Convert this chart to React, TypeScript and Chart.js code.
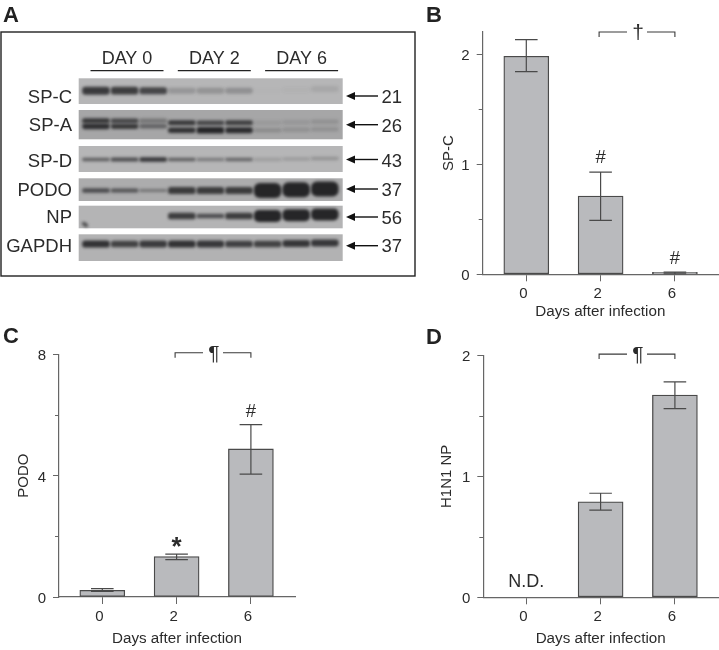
import React, { useEffect, useRef } from "react";
import { Chart, registerables } from "chart.js";

Chart.register(...registerables);

const FONT = "'Liberation Sans', Arial, sans-serif";
const TEXT = "#2b2b2b";
const AXIS = "#666666";
const EDGE = "#4a4a4a";
const BAR = "#b9babd";

// ---------- data: bar panels ----------
const days = ["0", "2", "6"];

const spcValues = [1.98, 0.71, 0.012];
const spcUpper = [2.13, 0.927, 0.02];
const spcLower = [1.84, 0.49, 0.005];

const podoValues = [0.22, 1.33, 4.88];
const podoUpper = [0.275, 1.41, 5.68];
const podoLower = [0.187, 1.23, 4.05];

const npValues = [null, 0.79, 1.672];
const npUpper = [null, 0.86, 1.78];
const npLower = [null, 0.72, 1.56];

const spcTicks = [0, 0.5, 1, 1.5, 2];
const podoTicks = [0, 2, 4, 6, 8];
const npTicks = [0, 0.5, 1, 1.5, 2];

// ---------- data: blot panel (band density per lane) ----------
const dayHeaders = ["DAY 0", "DAY 2", "DAY 6"];
const proteins = ["SP-C", "SP-A", "SP-D", "PODO", "NP", "GAPDH"];
const weights = ["21", "26", "43", "37", "56", "37"];

const spcBand = [0.86, 0.84, 0.78, 0.22, 0.24, 0.26, 0.01, 0.03, 0.1];
const spaBandTop = [0.85, 0.75, 0.38, 0.85, 0.75, 0.8, 0.1, 0.12, 0.16];
const spaBandLow = [0.92, 0.85, 0.52, 0.9, 1.0, 0.95, 0.2, 0.16, 0.16];
const spdBand = [0.6, 0.72, 0.88, 0.6, 0.4, 0.55, 0.16, 0.18, 0.24];
const podoBand = [0.72, 0.66, 0.42, 0.84, 0.84, 0.84, 1, 1, 1];
const npBand = [0, 0, 0, 0.84, 0.72, 0.84, 1, 1, 1];
const gapdhBand = [0.92, 0.8, 0.86, 0.92, 0.88, 0.82, 0.8, 0.88, 0.88];

// ---------- layout ----------
const LANE_X0 = 96;
const LANE_STEP = 28.6;
const ROWS = [
  { top: 78.3, bottom: 104, shade: "#b6b6b7", labelY: 98, arrowY: 96, numY: 98 },
  { top: 110, bottom: 139.3, shade: "#a6a6a7", labelY: 126, arrowY: 124.7, numY: 126.5 },
  { top: 146, bottom: 172, shade: "#b6b6b7", labelY: 161.5, arrowY: 159.5, numY: 161.5 },
  { top: 178.3, bottom: 201, shade: "#acacad", labelY: 190.5, arrowY: 189, numY: 190.5 },
  { top: 205.7, bottom: 228.3, shade: "#b4b4b5", labelY: 218, arrowY: 217, numY: 218.5 },
  { top: 234.3, bottom: 261, shade: "#b2b2b3", labelY: 246.5, arrowY: 245.7, numY: 246.5 },
];
const TRACKS = [
  { data: spcBand, y: 90.7, thin: 6, thick: 11, shift: 0 },
  { data: spaBandTop, y: 120.8, thin: 4.5, thick: 6, shift: 2 },
  { data: spaBandLow, y: 126.3, thin: 4.5, thick: 6.5, shift: 4 },
  { data: spdBand, y: 159.5, thin: 3.5, thick: 5.5, shift: 0 },
  { data: podoBand, y: 190.5, thin: 3, thick: 15, shift: 0 },
  { data: npBand, y: 216, thin: 3.5, thick: 12, shift: 0 },
  { data: gapdhBand, y: 244, thin: 6, thick: 8, shift: 0 },
];

function blotPlugin() {
  return {
    id: "blot",
    afterDatasetsDraw(chart: any) {
      const { ctx } = chart;
      const x = chart.scales.x;
      const y = chart.scales.y;
      const px = (v: number) => x.getPixelForValue(v);
      ctx.save();
      ctx.fillStyle = "#fff";
      ctx.fillRect(0, 0, 420, 290);

      ctx.fillStyle = "#222";
      ctx.textBaseline = "alphabetic";
      ctx.textAlign = "left";
      ctx.font = `bold 22px ${FONT}`;
      ctx.fillText("A", 3, 22);

      ctx.strokeStyle = "#222";
      ctx.lineWidth = 1.4;
      ctx.strokeRect(1, y.getPixelForValue(32), 414, 244);

      ctx.fillStyle = TEXT;
      ctx.font = `18px ${FONT}`;
      ctx.textAlign = "center";
      ctx.textBaseline = "middle";
      dayHeaders.forEach((d, i) => {
        const c = px(1 + i * 3) + 2.4 + i * 1.5;
        ctx.fillText(d, c, 59.5);
        ctx.beginPath();
        ctx.lineWidth = 1.2;
        ctx.moveTo(c - 36.5, 70.7);
        ctx.lineTo(c + 36.5, 70.7);
        ctx.stroke();
      });

      ROWS.forEach((r, i) => {
        ctx.filter = "blur(0.6px)";
        ctx.fillStyle = r.shade;
        ctx.fillRect(78.7, r.top, 264, r.bottom - r.top);
        ctx.filter = "none";
        ctx.fillStyle = TEXT;
        ctx.textAlign = "right";
        ctx.font = `18.5px ${FONT}`;
        ctx.fillText(proteins[i], 72, r.labelY);
        ctx.textAlign = "left";
        ctx.fillText(weights[i], 381.5, r.numY);
        ctx.strokeStyle = "#111";
        ctx.lineWidth = 1.4;
        ctx.beginPath();
        ctx.moveTo(378, r.arrowY);
        ctx.lineTo(352, r.arrowY);
        ctx.stroke();
        ctx.beginPath();
        ctx.fillStyle = "#111";
        ctx.moveTo(346, r.arrowY);
        ctx.lineTo(355, r.arrowY - 4);
        ctx.lineTo(355, r.arrowY + 4);
        ctx.closePath();
        ctx.fill();
      });

      ctx.filter = "blur(1.6px)";
      chart.data.datasets.forEach((ds: any, di: number) => {
        const t = TRACKS[di];
        ds.data.forEach((p: any) => {
          if (p.y <= 0) return;
          const h = t.thin + (t.thick - t.thin) * Math.pow(p.y, 6);
          const lift = p.x >= 6 ? (p.x - 6) * (t.thick > 9 ? 0.8 : 0.5) : 0;
          const drop = p.x >= 3 ? t.shift : 0;
          ctx.fillStyle = `rgba(22,22,24,${p.y * 0.9})`;
          ctx.beginPath();
          ctx.roundRect(px(p.x) - 13.8, t.y - lift + drop - h / 2, 27.6, h, h / 2.5);
          ctx.fill();
        });
      });
      // small speck near the lower left of the NP strip
      ctx.fillStyle = "rgba(40,40,42,0.7)";
      ctx.beginPath();
      ctx.ellipse(85, 224.5, 3.5, 2, 0.6, 0, Math.PI * 2);
      ctx.fill();
      ctx.filter = "none";
      ctx.restore();
    },
  };
}

function BlotPanel() {
  const ref = useRef<HTMLCanvasElement>(null);
  useEffect(() => {
    const datasets = TRACKS.map((t) => ({
      data: t.data.map((v, i) => ({ x: i, y: v })),
      pointRadius: 0,
      showLine: false,
    }));
    const chart = new Chart(ref.current!, {
      type: "scatter",
      data: { datasets },
      options: {
        animation: false,
        responsive: false,
        parsing: false,
        events: [],
        layout: { padding: 0 },
        plugins: { legend: { display: false }, tooltip: { enabled: false } },
        scales: {
          x: { type: "linear", display: false, min: -LANE_X0 / LANE_STEP, max: (420 - LANE_X0) / LANE_STEP },
          y: { type: "linear", display: false, min: 0, max: 290, reverse: true },
        },
      },
      plugins: [blotPlugin()],
    } as any);
    return () => chart.destroy();
  }, []);
  return <canvas ref={ref} width={420} height={290} style={{ position: "absolute", left: 0, top: 0 }} />;
}

type BarCfg = {
  letter: string;
  letterX: number;
  letterY: number;
  left: number;
  top: number;
  width: number;
  height: number;
  plot: { l: number; r: number; t: number; b: number };
  centers: [number, number];
  yMax: number;
  yTicks: number[];
  values: (number | null)[];
  upper: (number | null)[];
  lower: (number | null)[];
  yTitle: string;
  yTitleX: number;
  xTitleGap: number;
  bracketSymbol: string;
  bracketY: number;
  marks: { i: number; text: string; y: number; font: string }[];
  nd?: { i: number; y: number };
};

function overlay(cfg: BarCfg) {
  return {
    id: "overlay",
    afterDatasetsDraw(chart: any) {
      const { ctx } = chart;
      const x = chart.scales.x;
      const y = chart.scales.y;
      ctx.save();
      // shorter minor ticks on the value axis
      ctx.strokeStyle = AXIS;
      ctx.lineWidth = 1;
      cfg.yTicks.forEach((v, i) => {
        if (i % 2 === 0) return;
        const py = Math.round(y.getPixelForValue(v)) + 0.5;
        ctx.beginPath();
        ctx.moveTo(x.left - 4, py);
        ctx.lineTo(x.left, py);
        ctx.stroke();
      });
      // error bars
      ctx.strokeStyle = EDGE;
      ctx.lineWidth = 1.2;
      cfg.values.forEach((_, i) => {
        const up = cfg.upper[i];
        const lo = cfg.lower[i];
        if (up == null || lo == null) return;
        const cx = x.getPixelForValue(i);
        const a = y.getPixelForValue(up);
        const b = y.getPixelForValue(lo);
        ctx.beginPath();
        ctx.moveTo(cx, a);
        ctx.lineTo(cx, b);
        ctx.moveTo(cx - 11.3, a);
        ctx.lineTo(cx + 11.3, a);
        ctx.moveTo(cx - 11.3, b);
        ctx.lineTo(cx + 11.3, b);
        ctx.stroke();
      });
      // panel letter
      ctx.fillStyle = "#222";
      ctx.textAlign = "left";
      ctx.textBaseline = "alphabetic";
      ctx.font = `bold 22px ${FONT}`;
      ctx.fillText(cfg.letter, cfg.letterX, cfg.letterY);
      // bracket between days 2 and 6
      const x1 = x.getPixelForValue(1) - 1.5;
      const x2 = x.getPixelForValue(2);
      const by = y.getPixelForValue(cfg.bracketY);
      const mid = (x1 + x2) / 2 + 1;
      ctx.strokeStyle = "#3a3a3a";
      ctx.lineWidth = 1.1;
      ctx.beginPath();
      ctx.moveTo(x1, by + 5);
      ctx.lineTo(x1, by);
      ctx.lineTo(mid - 11, by);
      ctx.moveTo(mid + 9, by);
      ctx.lineTo(x2, by);
      ctx.lineTo(x2, by + 5);
      ctx.stroke();
      ctx.fillStyle = TEXT;
      ctx.textAlign = "center";
      ctx.textBaseline = "middle";
      ctx.font = `21px ${FONT}`;
      ctx.fillText(cfg.bracketSymbol, mid, by + 1);
      // significance marks
      cfg.marks.forEach((m) => {
        ctx.font = m.font;
        ctx.fillText(m.text, x.getPixelForValue(m.i), y.getPixelForValue(m.y));
      });
      if (cfg.nd) {
        ctx.font = `18px ${FONT}`;
        ctx.fillText("N.D.", x.getPixelForValue(cfg.nd.i), y.getPixelForValue(cfg.nd.y));
      }
      ctx.restore();
    },
  };
}

function BarPanel({ cfg }: { cfg: BarCfg }) {
  const ref = useRef<HTMLCanvasElement>(null);
  useEffect(() => {
    const { plot, centers } = cfg;
    const step = centers[1] - centers[0];
    const chart = new Chart(ref.current!, {
      type: "bar",
      data: {
        datasets: [
          {
            data: cfg.values.map((v, i) => ({ x: i, y: v })),
            backgroundColor: BAR,
            borderColor: EDGE,
            borderWidth: 1.3,
            borderSkipped: false,
            barThickness: 45,
            minBarLength: 2,
          },
        ],
      },
      options: {
        animation: false,
        responsive: false,
        events: [],
        layout: { padding: { top: plot.t, right: cfg.width - plot.r, left: 0, bottom: 0 } },
        plugins: { legend: { display: false }, tooltip: { enabled: false } },
        scales: {
          x: {
            type: "linear",
            offset: false,
            min: (plot.l - centers[0]) / step,
            max: (plot.r - centers[0]) / step,
            afterFit: (s: any) => {
              s.height = cfg.height - plot.b;
            },
            afterBuildTicks: (s: any) => {
              s.ticks = days.map((_, i) => ({ value: i }));
            },
            ticks: {
              callback: (v: any) => days[v],
              autoSkip: false,
              maxRotation: 0,
              padding: 3.5,
              labelOffset: -3,
              color: TEXT,
              font: { family: FONT, size: 15 },
            },
            grid: {
              offset: false,
              drawOnChartArea: false,
              drawTicks: true,
              tickLength: 7,
              tickColor: AXIS,
              tickWidth: 1,
            },
            border: { color: AXIS, width: 1.2 },
            title: {
              display: true,
              text: "Days after infection",
              color: TEXT,
              font: { family: FONT, size: 15.2 },
              padding: { top: 0, bottom: cfg.xTitleGap },
            },
          },
          y: {
            type: "linear",
            min: 0,
            max: cfg.yMax,
            afterFit: (s: any) => {
              s.width = plot.l;
            },
            afterBuildTicks: (s: any) => {
              s.ticks = cfg.yTicks.map((v) => ({ value: v }));
            },
            ticks: {
              callback: (_: any, i: number) => (i % 2 === 0 ? String(cfg.yTicks[i]) : ""),
              padding: 7,
              labelOffset: 2,
              color: TEXT,
              font: { family: FONT, size: 15 },
            },
            grid: {
              drawOnChartArea: false,
              drawTicks: true,
              tickLength: 6,
              tickColor: (c: any) => (c.index % 2 === 0 ? AXIS : "rgba(0,0,0,0)"),
              tickWidth: 1,
            },
            border: { color: AXIS, width: 1.2 },
            title: {
              display: true,
              text: cfg.yTitle,
              color: TEXT,
              font: { family: FONT, size: 15 },
              padding: { top: cfg.yTitleX - 9, bottom: 0 },
            },
          },
        },
      },
      plugins: [overlay(cfg)],
    } as any);
    return () => chart.destroy();
  }, [cfg]);
  return (
    <canvas
      ref={ref}
      width={cfg.width}
      height={cfg.height}
      style={{ position: "absolute", left: cfg.left, top: cfg.top }}
    />
  );
}

const hashFont = `18.5px ${FONT}`;

const panelB: BarCfg = {
  letter: "B",
  letterX: 6,
  letterY: 22,
  left: 420,
  top: 0,
  width: 299,
  height: 325,
  plot: { l: 62.7, r: 298, t: 32, b: 274.3 },
  centers: [106.3, 180.6],
  yMax: 2.2,
  yTicks: spcTicks,
  values: spcValues,
  upper: spcUpper,
  lower: spcLower,
  yTitle: "SP-C",
  yTitleX: 29,
  xTitleGap: 4,
  bracketSymbol: "†",
  bracketY: 2.2,
  marks: [
    { i: 1, text: "#", y: 1.06, font: hashFont },
    { i: 2, text: "#", y: 0.14, font: hashFont },
  ],
};

const panelC: BarCfg = {
  letter: "C",
  letterX: 3,
  letterY: 18,
  left: 0,
  top: 325,
  width: 300,
  height: 325,
  plot: { l: 59, r: 295, t: 29.3, b: 272 },
  centers: [102.3, 176.6],
  yMax: 8,
  yTicks: podoTicks,
  values: podoValues,
  upper: podoUpper,
  lower: podoLower,
  yTitle: "PODO",
  yTitleX: 24,
  xTitleGap: 2,
  bracketSymbol: "¶",
  bracketY: 8.05,
  marks: [
    { i: 1, text: "*", y: 1.62, font: `bold 26px ${FONT}` },
    { i: 2, text: "#", y: 6.1, font: hashFont },
  ],
};

const panelD: BarCfg = {
  letter: "D",
  letterX: 6,
  letterY: 19,
  left: 420,
  top: 325,
  width: 299,
  height: 325,
  plot: { l: 63.3, r: 298, t: 30.3, b: 272.3 },
  centers: [106.3, 180.6],
  yMax: 2,
  yTicks: npTicks,
  values: npValues,
  upper: npUpper,
  lower: npLower,
  yTitle: "H1N1 NP",
  yTitleX: 27,
  xTitleGap: 2,
  bracketSymbol: "¶",
  bracketY: 2.01,
  marks: [],
  nd: { i: 0, y: 0.13 },
};

export default function App() {
  return (
    <div style={{ position: "absolute", left: 0, top: 0, width: 719, height: 650, background: "#fff", overflow: "hidden" }}>
      <BlotPanel />
      <BarPanel cfg={panelB} />
      <BarPanel cfg={panelC} />
      <BarPanel cfg={panelD} />
    </div>
  );
}
